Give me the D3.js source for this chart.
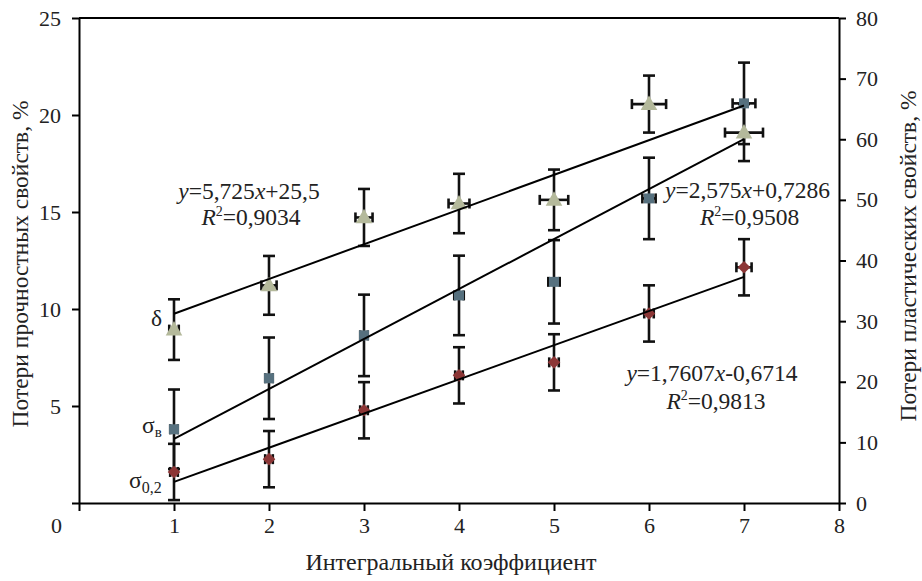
<!DOCTYPE html>
<html>
<head>
<meta charset="utf-8">
<script src="https://cdn.jsdelivr.net/npm/d3@7"></script>
<style>
  body { margin: 0; background: #fff; }
  svg { font-family: "Liberation Serif", "Times New Roman", serif; }
</style>
</head>
<body>
<div id="chart"></div>
<script>
// Интегральный коэффициент
const xValues = [1, 2, 3, 4, 5, 6, 7];

// δ – потери пластических свойств (правая ось), %
const deltaValues = [28.6, 35.9, 47.1, 49.4, 50.0, 65.8, 61.1];
const deltaErrY = [5.0, 4.85, 4.7, 4.9, 5.0, 4.7, 4.7];
const deltaErrX = [0.05, 0.08, 0.09, 0.11, 0.15, 0.18, 0.2];

// σв – потери прочностных свойств (левая ось), %
const sigmaBValues = [3.8, 6.43, 8.64, 10.7, 11.4, 15.7, 20.6];
const sigmaBErrY = [2.05, 2.1, 2.1, 2.05, 2.15, 2.1, 2.1];
const sigmaBErrX = [0.04, 0.04, 0.04, 0.05, 0.06, 0.07, 0.12];

// σ0,2 – потери прочностных свойств (левая ось), %
const sigma02Values = [1.6, 2.26, 4.78, 6.58, 7.25, 9.77, 12.15];
const sigma02ErrY = [1.45, 1.45, 1.45, 1.45, 1.45, 1.45, 1.45];
const sigma02ErrX = [0.04, 0.04, 0.04, 0.04, 0.05, 0.05, 0.08];

// линии тренда: [наклон, смещение]
const deltaTrend = [5.725, 25.5];
const sigmaBTrend = [2.575, 0.7286];
const sigma02Trend = [1.7607, -0.6714];

const xTicks = [0, 1, 2, 3, 4, 5, 6, 7, 8];
const leftTicks = [5, 10, 15, 20, 25];
const rightTicks = [0, 10, 20, 30, 40, 50, 60, 70, 80];

const width = 922, height = 581;
const margin = { top: 18, right: 83, bottom: 78, left: 79 };

const svg = d3.select("#chart").append("svg")
    .attr("width", width)
    .attr("height", height);

const x = d3.scaleLinear().domain([0, 8]).range([margin.left, width - margin.right]);
const yL = d3.scaleLinear().domain([0, 25]).range([height - margin.bottom, margin.top]);
const yR = d3.scaleLinear().domain([0, 80]).range([height - margin.bottom, margin.top]);

const tickFont = 22;
const textFont = 23.5;
const textColor = "#222";

// рамка сверху
svg.append("line")
    .attr("x1", x(0)).attr("x2", x(8))
    .attr("y1", yL(25)).attr("y2", yL(25))
    .attr("stroke", "#000").attr("stroke-width", 2);

// оси
function styleAxis(g) {
    g.selectAll("path").attr("stroke", "#000").attr("stroke-width", 2);
    g.selectAll("line").attr("stroke", "#000").attr("stroke-width", 2);
    g.selectAll("text").attr("font-size", tickFont).attr("fill", textColor)
        .style("font-family", "Liberation Serif, serif");
}

const xAxis = svg.append("g")
    .attr("transform", `translate(0,${yL(0)})`)
    .call(d3.axisBottom(x).tickValues(xTicks).tickSize(8).tickSizeOuter(0).tickPadding(6).tickFormat(d3.format("d")))
    .call(styleAxis);
xAxis.selectAll(".tick").filter(d => d === 0).select("text").attr("dx", -23);

const leftAxis = svg.append("g")
    .attr("transform", `translate(${x(0)},0)`)
    .call(d3.axisLeft(yL).tickValues([0].concat(leftTicks)).tickSize(7).tickSizeOuter(0).tickPadding(11))
    .call(styleAxis);
leftAxis.selectAll(".tick").filter(d => d === 0).select("text").remove();

svg.append("g")
    .attr("transform", `translate(${x(8)},0)`)
    .call(d3.axisRight(yR).tickValues(rightTicks).tickSize(7).tickSizeOuter(0).tickPadding(10))
    .call(styleAxis);

// подписи осей
svg.append("text")
    .attr("transform", `translate(28,264) rotate(-90)`)
    .attr("text-anchor", "middle")
    .attr("font-size", textFont).attr("fill", textColor)
    .text("Потери прочностных свойств, %");

svg.append("text")
    .attr("transform", `translate(916,256) rotate(-90)`)
    .attr("text-anchor", "middle")
    .attr("font-size", textFont).attr("fill", textColor)
    .text("Потери пластических свойств, %");

svg.append("text")
    .attr("x", 451)
    .attr("y", 570)
    .attr("text-anchor", "middle")
    .attr("font-size", 24).attr("fill", textColor)
    .text("Интегральный коэффициент");

// серии
const series = [
    { name: "delta", values: deltaValues, errY: deltaErrY, errX: deltaErrX, y: yR, color: "#b4b99b", symbol: d3.symbolTriangle, size: 120, rot: 0, dy: 1, trend: deltaTrend },
    { name: "sigmaB", values: sigmaBValues, errY: sigmaBErrY, errX: sigmaBErrX, y: yL, color: "#56707e", symbol: d3.symbolSquare, size: 100, rot: 0, dy: 0, trend: sigmaBTrend },
    { name: "sigma02", values: sigma02Values, errY: sigma02ErrY, errX: sigma02ErrX, y: yL, color: "#8c3636", symbol: d3.symbolSquare, size: 80, rot: 45, dy: 0, trend: sigma02Trend }
];

const cap = 6;
const layers = { err: svg.append("g"), marks: svg.append("g"), trends: svg.append("g") };

series.forEach(s => {
    const pts = xValues.map((xv, i) => ({ x: xv, y: s.values[i], ey: s.errY[i], ex: s.errX[i] }));

    // планки погрешностей
    const eb = layers.err.append("g").attr("class", s.name).selectAll("g.err").data(pts).enter().append("g")
        .attr("class", "err")
        .attr("stroke", "#111").attr("stroke-width", 2.6);
    eb.append("line")
        .attr("x1", d => x(d.x)).attr("x2", d => x(d.x))
        .attr("y1", d => s.y(d.y + d.ey)).attr("y2", d => s.y(d.y - d.ey));
    eb.append("line")
        .attr("x1", d => x(d.x) - cap).attr("x2", d => x(d.x) + cap)
        .attr("y1", d => s.y(d.y + d.ey)).attr("y2", d => s.y(d.y + d.ey));
    eb.append("line")
        .attr("x1", d => x(d.x) - cap).attr("x2", d => x(d.x) + cap)
        .attr("y1", d => s.y(d.y - d.ey)).attr("y2", d => s.y(d.y - d.ey));
    // горизонтальные
    eb.append("line")
        .attr("x1", d => x(d.x - d.ex)).attr("x2", d => x(d.x + d.ex))
        .attr("y1", d => s.y(d.y)).attr("y2", d => s.y(d.y));
    eb.append("line")
        .attr("x1", d => x(d.x - d.ex)).attr("x2", d => x(d.x - d.ex))
        .attr("y1", d => s.y(d.y) - 5).attr("y2", d => s.y(d.y) + 5);
    eb.append("line")
        .attr("x1", d => x(d.x + d.ex)).attr("x2", d => x(d.x + d.ex))
        .attr("y1", d => s.y(d.y) - 5).attr("y2", d => s.y(d.y) + 5);

    // маркеры
    layers.marks.append("g").attr("class", s.name).selectAll("path").data(pts).enter().append("path")
        .attr("d", d3.symbol().type(s.symbol).size(s.size))
        .attr("transform", d => `translate(${x(d.x)},${s.y(d.y) + s.dy}) rotate(${s.rot})`)
        .attr("fill", s.color);

    // линия тренда
    const x0 = xValues[0], x1 = xValues[xValues.length - 1];
    layers.trends.append("line")
        .attr("x1", x(x0)).attr("y1", s.y(s.trend[0] * x0 + s.trend[1]))
        .attr("x2", x(x1)).attr("y2", s.y(s.trend[0] * x1 + s.trend[1]))
        .attr("stroke", "#000").attr("stroke-width", 2);
});

// обозначения серий
svg.append("text").attr("x", 151).attr("y", 326).attr("font-size", textFont).attr("fill", textColor).text("δ");
const sb = svg.append("text").attr("x", 142).attr("y", 433).attr("font-size", textFont).attr("fill", textColor);
sb.append("tspan").text("σ");
sb.append("tspan").attr("font-size", 15).attr("dy", 4).text("в");
const s02 = svg.append("text").attr("x", 129).attr("y", 488).attr("font-size", textFont).attr("fill", textColor);
s02.append("tspan").text("σ");
s02.append("tspan").attr("font-size", 16).attr("dy", 5).text("0,2");

// уравнения
function equation(xc, yc, k, b, r2, anchor, dxR, lineGap) {
    const t = svg.append("text").attr("x", xc).attr("y", yc)
        .attr("text-anchor", anchor).attr("font-size", textFont).attr("fill", textColor);
    t.append("tspan").attr("font-style", "italic").text("y");
    t.append("tspan").text("=" + k);
    t.append("tspan").attr("font-style", "italic").text("x");
    t.append("tspan").text(b);
    const r = svg.append("text").attr("x", xc + dxR).attr("y", yc + lineGap)
        .attr("text-anchor", anchor).attr("font-size", textFont).attr("fill", textColor);
    r.append("tspan").attr("font-style", "italic").text("R");
    r.append("tspan").attr("font-size", 14).attr("dy", -9).text("2");
    r.append("tspan").attr("dy", 9).text("=" + r2);
}
equation(249, 199, "5,725", "+25,5", "0,9034", "middle", 2, 26);
equation(665, 198, "2,575", "+0,7286", "0,9508", "start", 35, 27);
equation(712, 381, "1,7607", "-0,6714", "0,9813", "middle", 4, 28);
</script>
</body>
</html>
